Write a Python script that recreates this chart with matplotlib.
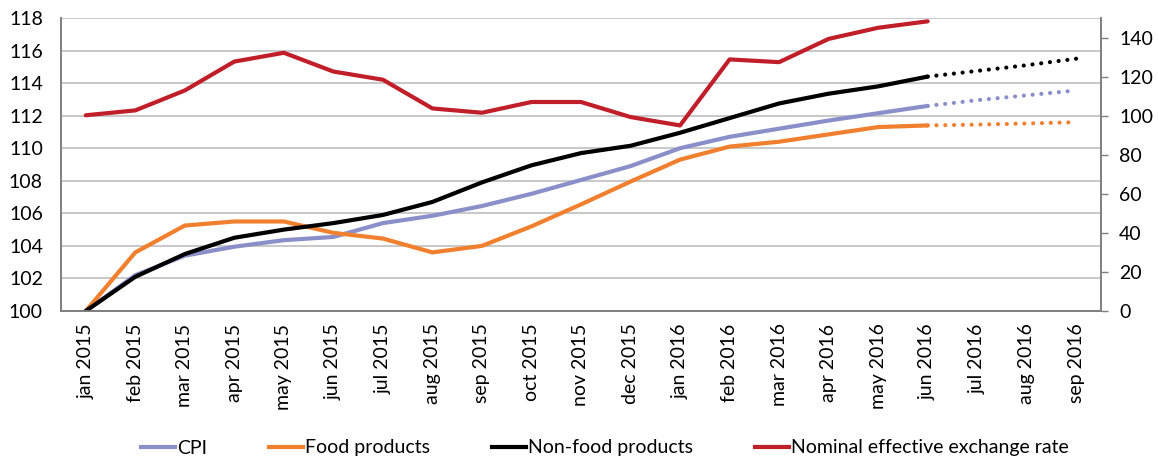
import matplotlib
matplotlib.use("Agg")
import matplotlib.pyplot as plt
import numpy as np

plt.rcParams['font.family'] = ['Lato', 'DejaVu Sans']

months = ["jan 2015", "feb 2015", "mar 2015", "apr 2015", "may 2015", "jun 2015",
          "jul 2015", "aug 2015", "sep 2015", "oct 2015", "nov 2015", "dec 2015",
          "jan 2016", "feb 2016", "mar 2016", "apr 2016", "may 2016", "jun 2016",
          "jul 2016", "aug 2016", "sep 2016"]

# actual values, jan 2015 - jun 2016
cpi = [100.0, 102.2, 103.4, 103.95, 104.35, 104.55, 105.4, 105.85, 106.45, 107.2,
       108.05, 108.9, 110.0, 110.7, 111.2, 111.7, 112.15, 112.6]
food = [100.0, 103.6, 105.25, 105.5, 105.5, 104.8, 104.45, 103.6, 104.0, 105.2,
        106.55, 107.95, 109.3, 110.1, 110.4, 110.85, 111.3, 111.4]
non_food = [100.0, 102.1, 103.5, 104.5, 105.0, 105.4, 105.9, 106.7, 107.9, 108.95,
            109.7, 110.15, 110.95, 111.85, 112.75, 113.35, 113.8, 114.4]
neer = [100.2, 102.7, 112.9, 127.7, 132.2, 122.6, 118.4, 103.7, 101.5, 107.0,
        107.0, 99.3, 95.0, 128.8, 127.4, 139.3, 145.0, 148.3]

# forecasts, jun 2016 - sep 2016
cpi_fc = [112.6, 112.95, 113.25, 113.55]
food_fc = [111.4, 111.45, 111.52, 111.6]
non_food_fc = [114.4, 114.75, 115.1, 115.5]

C_CPI = "#8A8FC9"
C_FOOD = "#F0802E"
C_NONFOOD = "#000000"
C_NEER = "#C01F2A"
AXIS_GRAY = "#7F7F7F"
FS = 14


def main():
    fig = plt.figure(figsize=(11.58, 4.59), dpi=100)
    ax = fig.add_axes([61 / 1158, 1 - 311 / 459, (1101 - 61) / 1158, (311 - 18) / 459])
    ax2 = ax.twinx()

    x = np.arange(len(months))
    n = len(cpi)
    xf = x[n - 1:]

    lw = 3
    dots = (0, (0.01, 2.1))
    ax.plot(x[:n], cpi, color=C_CPI, lw=lw, solid_capstyle='round', zorder=3)
    ax.plot(x[:n], food, color=C_FOOD, lw=lw, solid_capstyle='round', zorder=3)
    ax.plot(x[:n], non_food, color=C_NONFOOD, lw=lw, solid_capstyle='round', zorder=3)
    ax.plot(xf, cpi_fc, color=C_CPI, lw=lw, linestyle=dots, dash_capstyle='round', zorder=3)
    ax.plot(xf, food_fc, color=C_FOOD, lw=lw, linestyle=dots, dash_capstyle='round', zorder=3)
    ax.plot(xf, non_food_fc, color=C_NONFOOD, lw=lw, linestyle=dots, dash_capstyle='round', zorder=3)
    ax2.plot(x[:n], neer, color=C_NEER, lw=lw, solid_capstyle='round', zorder=3)

    ax.set_xlim(-0.5, len(months) - 0.5)
    ax.set_ylim(100, 118)
    ax.set_yticks(np.arange(100, 119, 2))
    ax2.set_ylim(0, 150)
    ax2.set_yticks(np.arange(0, 141, 20))

    ax.set_xticks(x)
    ax.set_xticklabels(months, rotation=90, fontsize=FS, color="#000000")
    ax.tick_params(axis='x', length=0, pad=9)
    ax.tick_params(axis='y', length=0, pad=13, labelsize=FS)
    ax2.tick_params(axis='y', length=5, width=1, color=AXIS_GRAY, pad=8, labelsize=FS)

    ax.grid(axis='y', color="#BFBFBF", lw=1.2)
    ax.set_axisbelow(True)
    for a in (ax, ax2):
        a.spines['top'].set_visible(False)
        for side in ('left', 'right', 'bottom'):
            a.spines[side].set_color(AXIS_GRAY)
            a.spines[side].set_linewidth(1.2)

    handles = [
        plt.Line2D([], [], color=C_CPI, lw=lw),
        plt.Line2D([], [], color=C_FOOD, lw=lw),
        plt.Line2D([], [], color=C_NONFOOD, lw=lw),
        plt.Line2D([], [], color=C_NEER, lw=lw),
    ]
    labels = ["CPI", "Food products", "Non-food products", "Nominal effective exchange rate"]
    fig.legend(handles, labels, loc='center', bbox_to_anchor=(605 / 1158, 1 - 448 / 459),
               ncol=4, frameon=False, fontsize=FS, handlelength=1.75, handletextpad=0.1,
               columnspacing=3.2)

    fig.savefig("out.png", dpi=100)


if __name__ == "__main__":
    main()
